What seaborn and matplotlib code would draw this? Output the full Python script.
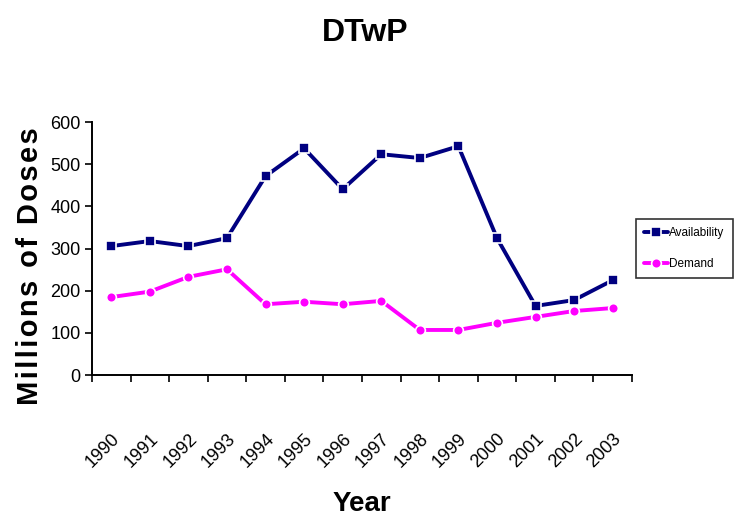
import matplotlib
matplotlib.use("Agg")
import matplotlib.pyplot as plt
import seaborn as sns
import pandas as pd
from matplotlib import font_manager

years = ["1990", "1991", "1992", "1993", "1994", "1995", "1996",
         "1997", "1998", "1999", "2000", "2001", "2002", "2003"]
availability = [306, 318, 306, 325, 472, 538, 441, 524, 515, 543, 325, 164, 178, 225]
demand = [185, 198, 233, 251, 168, 174, 168, 176, 107, 107, 124, 138, 152, 159]
y_ticks = [0, 100, 200, 300, 400, 500, 600]

sns.set_theme(style="white")
names = {f.name for f in font_manager.fontManager.ttflist}
narrow = "Liberation Sans Narrow" if "Liberation Sans Narrow" in names else "Liberation Sans"
plt.rcParams["font.family"] = [narrow, "DejaVu Sans"]
plt.rcParams.update({"text.color": "black", "axes.labelcolor": "black",
                     "xtick.color": "black", "ytick.color": "black"})

df = pd.DataFrame({
    "pos": list(range(len(years))) * 2,
    "value": availability + demand,
    "series": ["Availability"] * len(years) + ["Demand"] * len(years),
})

fig = plt.figure(figsize=(7.34, 5.29), dpi=100)
ax = fig.add_axes([0.1253, 0.291, 0.7357, 0.478])

sns.lineplot(data=df, x="pos", y="value", hue="series", style="series",
             palette={"Availability": "#000080", "Demand": "#FF00FF"},
             markers={"Availability": "s", "Demand": "o"}, dashes=False,
             linewidth=2.8, markersize=7, markeredgewidth=1.2, ax=ax)

ax.set_xlim(-0.5, len(years) - 0.5)
ax.set_ylim(0, 600)
ax.set_yticks(y_ticks)
ax.set_yticklabels([str(v) for v in y_ticks], fontsize=13)

# category boundary ticks, labels centred on each category
ax.set_xticks([i - 0.5 for i in range(len(years) + 1)])
ax.set_xticklabels([])
ax.set_xticks(range(len(years)), minor=True)
ax.set_xticklabels(years, minor=True, rotation=45, ha="right", rotation_mode="anchor",
                   fontsize=13)
ax.tick_params(axis="x", which="minor", length=0, pad=40)
ax.tick_params(axis="x", which="major", direction="out", length=5, width=1.2, color="black", bottom=True)
ax.tick_params(axis="y", direction="out", length=5, width=1.2, color="black", left=True, pad=3)

for side in ("top", "right"):
    ax.spines[side].set_visible(False)
for side in ("left", "bottom"):
    ax.spines[side].set_color("black")
    ax.spines[side].set_linewidth(1.4)

ax.set_xlabel("Year", fontsize=20, fontweight="bold", labelpad=14)
ax.set_ylabel("")
hair = "\u200a"
fig.text(0.041, 0.497, hair.join("Millions of Doses"), rotation=90,
         ha="center", va="center", fontsize=21, fontweight="bold")

fig.text(0.497, 0.938, "DTwP", ha="center", va="center", fontsize=23, fontweight="bold")

leg = ax.legend(loc="center left", bbox_to_anchor=(1.003, 0.5), frameon=True,
                fontsize=8.5, handlelength=2.0, handletextpad=0.1, borderpad=0.7,
                labelspacing=1.6, fancybox=False, title=None, borderaxespad=0.2)
leg.get_frame().set_edgecolor("black")
leg.get_frame().set_linewidth(1.2)

fig.savefig("out.png", dpi=100)
